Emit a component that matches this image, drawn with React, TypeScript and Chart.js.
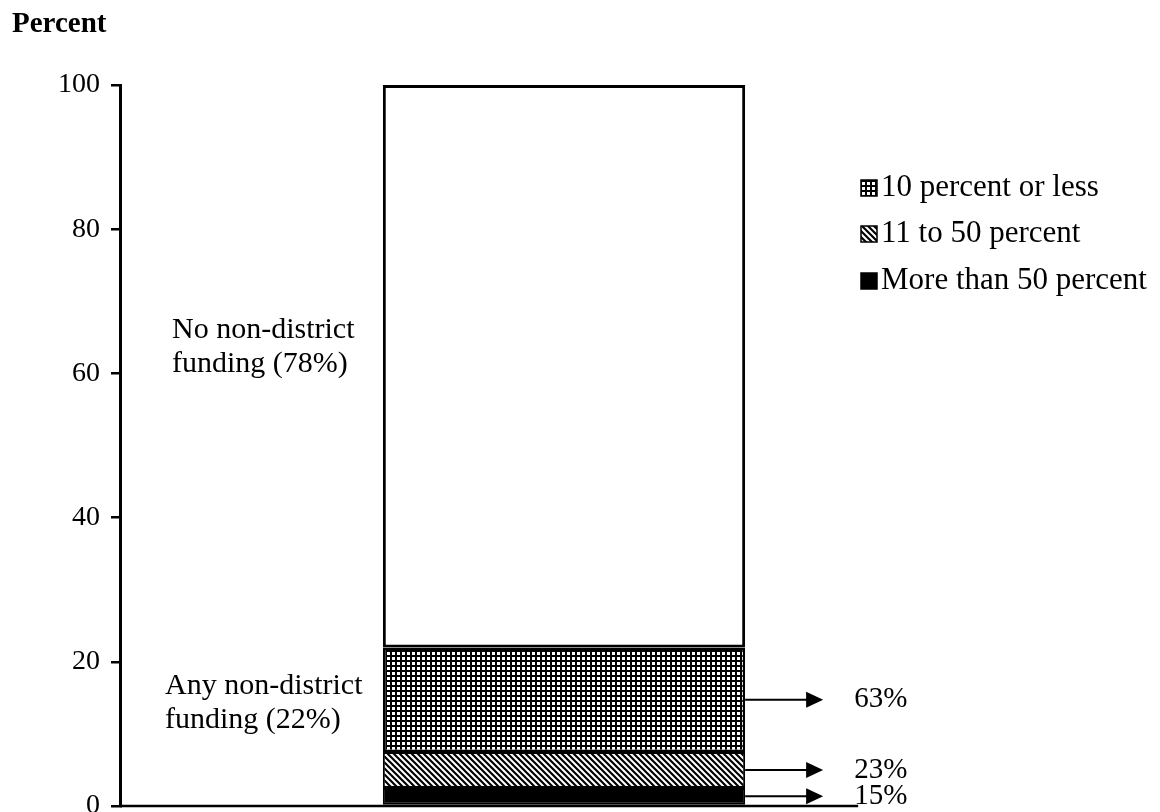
import React, { useEffect, useRef } from 'react';
import { Chart, registerables } from 'chart.js';

Chart.register(...registerables);

// ---------- data ----------
const categories = ['All schools'];
const moreThan50 = [2.5];
const elevenTo50 = [5];
const tenOrLess = [14.5];
const noFunding = [78];
const seriesNames = ['More than 50 percent', '11 to 50 percent', '10 percent or less', 'No non-district funding'];
const shareLabels = ['15%', '23%', '63%']; // shares of schools with any non-district funding
const legendOrder = [2, 1, 0];
const noFundingLabel = ['No non-district', 'funding (78%)'];
const anyFundingLabel = ['Any non-district', 'funding (22%)'];
const axisTitle = 'Percent';
const yMin = 0;
const yMax = 100;
const yStep = 20;

const FONT = '"Liberation Serif", "Times New Roman", Times, serif';

function makeGridPattern(): CanvasPattern | string {
  const c = document.createElement('canvas');
  c.width = 5;
  c.height = 5;
  const g = c.getContext('2d');
  if (!g) return '#888';
  g.fillStyle = '#fff';
  g.fillRect(0, 0, 5, 5);
  g.fillStyle = '#000';
  g.fillRect(0, 0, 5, 2);
  g.fillRect(0, 0, 2, 5);
  return g.createPattern(c, 'repeat') || '#888';
}

function makeDiagPattern(): CanvasPattern | string {
  const s = 6;
  const c = document.createElement('canvas');
  c.width = s;
  c.height = s;
  const g = c.getContext('2d');
  if (!g) return '#888';
  g.fillStyle = '#fff';
  g.fillRect(0, 0, s, s);
  g.strokeStyle = '#000';
  g.lineWidth = 2.2;
  g.beginPath();
  for (const k of [-1, 0, 1]) {
    g.moveTo(-1, -1 + k * s);
    g.lineTo(s + 1, s + 1 + k * s);
  }
  g.stroke();
  return g.createPattern(c, 'repeat') || '#888';
}

const overlayPlugin = {
  id: 'overlay',
  afterDatasetsDraw(chart: any) {
    const ctx: CanvasRenderingContext2D = chart.ctx;
    const area = chart.chartArea;
    const y = chart.scales.y;
    ctx.save();

    // bar geometry from the rendered elements
    const barEls = [0, 1, 2, 3].map((i) => chart.getDatasetMeta(i).data[0]);
    const barRight = barEls[0].x + barEls[0].width / 2;
    const tipX = barRight + 78;

    // baseline
    const y0 = y.getPixelForValue(0);
    ctx.strokeStyle = '#000';
    ctx.lineWidth = 2.5;
    ctx.beginPath();
    ctx.moveTo(area.left, y0);
    ctx.lineTo(tipX + 35, y0);
    ctx.stroke();

    // title
    ctx.fillStyle = '#000';
    ctx.textAlign = 'left';
    ctx.textBaseline = 'alphabetic';
    ctx.font = `bold 29px ${FONT}`;
    ctx.fillText(axisTitle, 12, 32);

    // in-plot annotations
    ctx.font = `30px ${FONT}`;
    const c1 = y.getPixelForValue(63.5);
    ctx.fillText(noFundingLabel[0], area.left + 52, c1 - 10);
    ctx.fillText(noFundingLabel[1], area.left + 52, c1 + 24);
    const c2 = y.getPixelForValue(14.3);
    ctx.fillText(anyFundingLabel[0], area.left + 45, c2 - 9);
    ctx.fillText(anyFundingLabel[1], area.left + 45, c2 + 25);

    // arrows and share labels
    ctx.font = `29px ${FONT}`;
    for (let i = 0; i < 3; i++) {
      const el = barEls[i];
      const ay = (el.y + el.base) / 2;
      ctx.lineWidth = 2;
      ctx.beginPath();
      ctx.moveTo(barRight, ay);
      ctx.lineTo(tipX - 14, ay);
      ctx.stroke();
      ctx.beginPath();
      ctx.moveTo(tipX, ay);
      ctx.lineTo(tipX - 17, ay - 8);
      ctx.lineTo(tipX - 17, ay + 8);
      ctx.closePath();
      ctx.fill();
      ctx.textBaseline = 'middle';
      ctx.fillText(shareLabels[i], tipX + 31, ay);
    }

    // legend
    const datasets = chart.data.datasets;
    const rowY = [188, 234, 281];
    ctx.font = `31px ${FONT}`;
    legendOrder.forEach((di, r) => {
      const cy = rowY[r];
      const sx = 861;
      const sz = 16;
      ctx.fillStyle = datasets[di].backgroundColor;
      ctx.fillRect(sx, cy - sz / 2, sz, sz);
      ctx.strokeStyle = '#000';
      ctx.lineWidth = 1.5;
      ctx.strokeRect(sx, cy - sz / 2, sz, sz);
      ctx.fillStyle = '#000';
      ctx.textBaseline = 'middle';
      ctx.fillText(seriesNames[di], sx + 20, cy);
    });

    ctx.restore();
  },
};

export default function App() {
  const ref = useRef<HTMLCanvasElement>(null);

  useEffect(() => {
    const canvas = ref.current;
    if (!canvas) return;
    const grid = makeGridPattern();
    const diag = makeDiagPattern();
    const chart = new Chart(canvas, {
      type: 'bar',
      data: {
        labels: categories,
        datasets: [
          { label: seriesNames[0], data: moreThan50, backgroundColor: '#000', borderColor: '#000', borderWidth: 2, borderSkipped: false },
          { label: seriesNames[1], data: elevenTo50, backgroundColor: diag as any, borderColor: '#000', borderWidth: 2, borderSkipped: false },
          { label: seriesNames[2], data: tenOrLess, backgroundColor: grid as any, borderColor: '#000', borderWidth: 2.5, borderSkipped: false },
          { label: seriesNames[3], data: noFunding, backgroundColor: '#fff', borderColor: '#000', borderWidth: 3, borderSkipped: false },
        ],
      },
      options: {
        responsive: false,
        animation: false,
        devicePixelRatio: 1,
        layout: { padding: { left: 0, right: 152, top: 85, bottom: 34 } },
        datasets: { bar: { barPercentage: 0.408, categoryPercentage: 1 } },
        plugins: { legend: { display: false }, tooltip: { enabled: false }, title: { display: false } },
        scales: {
          x: { stacked: true, display: false },
          y: {
            stacked: true,
            min: yMin,
            max: yMax,
            afterFit: (scale: any) => { scale.width = 120; },
            ticks: { stepSize: yStep, color: '#000', font: { family: FONT, size: 28 }, padding: 11 },
            grid: { drawOnChartArea: false, drawTicks: true, tickLength: 9, color: '#000', tickColor: '#000', tickWidth: 2.5, lineWidth: 2.5 },
            border: { display: true, color: '#000', width: 3 },
          },
        },
      },
      plugins: [overlayPlugin],
    });
    return () => chart.destroy();
  }, []);

  return (
    <div style={{ position: 'fixed', left: 0, top: 0, width: 1160, height: 812, overflow: 'hidden', background: '#fff' }}>
      <canvas ref={ref} width={1160} height={840} style={{ display: 'block', width: 1160, height: 840 }} />
    </div>
  );
}
